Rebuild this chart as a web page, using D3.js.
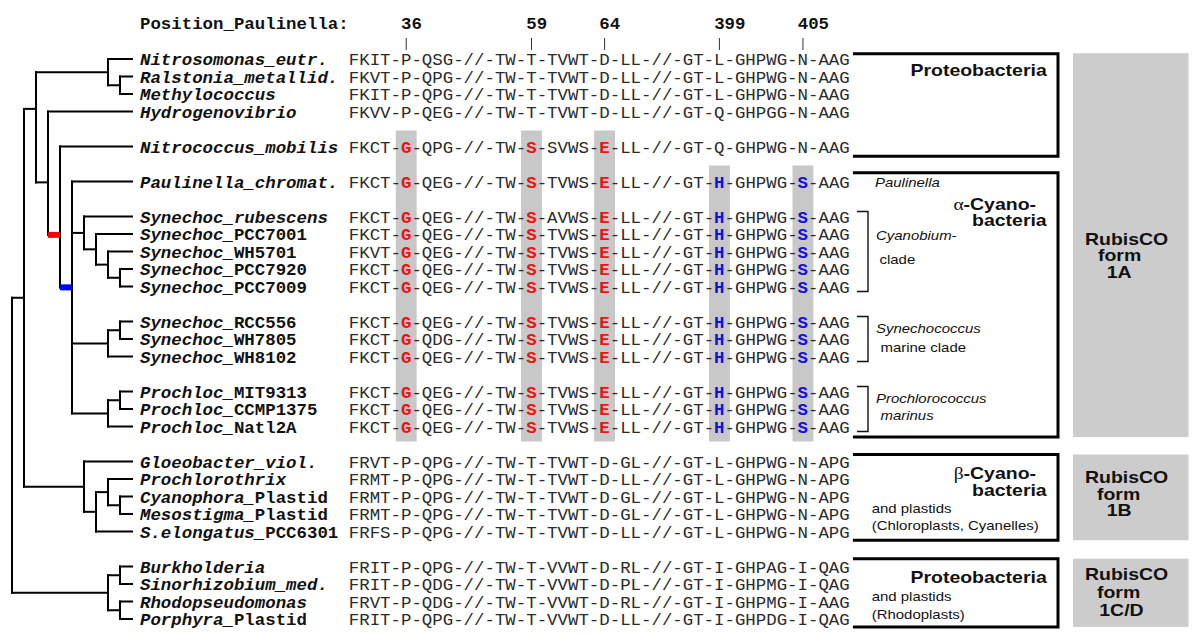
<!DOCTYPE html>
<html><head><meta charset="utf-8">
<script src="https://cdn.jsdelivr.net/npm/d3@7"></script>
<style>body{margin:0;background:#fff}svg{display:block}</style>
</head><body>
<svg id="chart" width="1200" height="636"></svg>
<script>
// ---------- DATA ----------
const taxonItalic = ["Nitrosomonas_eutr.","Ralstonia_metallid.","Methylococcus","Hydrogenovibrio",
 "Nitrococcus_mobilis","Paulinella_chromat.","Synechoc_rubescens","Synechoc_","Synechoc_","Synechoc_","Synechoc_",
 "Synechoc_","Synechoc_","Synechoc_","Prochloc_","Prochloc_","Prochloc_",
 "Gloeobacter_viol.","Prochlorothrix","Cyanophora_","Mesostigma_","S.elongatus_",
 "Burkholderia","Sinorhizobium_med.","Rhodopseudomonas","Porphyra_"];
const taxonUpright = ["","","","","","","","PCC7001","WH5701","PCC7920","PCC7009",
 "RCC556","WH7805","WH8102","MIT9313","CCMP1375","Natl2A",
 "","","Plastid","Plastid","PCC6301","","","","Plastid"];
const taxonRow = [0,1,2,3,5,7,9,10,11,12,13,15,16,17,19,20,21,23,24,25,26,27,29,30,31,32];
const sequences = [
 "FKIT-P-QSG-//-TW-T-TVWT-D-LL-//-GT-L-GHPWG-N-AAG",
 "FKVT-P-QPG-//-TW-T-TVWT-D-LL-//-GT-L-GHPWG-N-AAG",
 "FKIT-P-QPG-//-TW-T-TVWT-D-LL-//-GT-L-GHPWG-N-AAG",
 "FKVV-P-QEG-//-TW-T-TVWT-D-LL-//-GT-Q-GHPGG-N-AAG",
 "FKCT-G-QPG-//-TW-S-SVWS-E-LL-//-GT-Q-GHPWG-N-AAG",
 "FKCT-G-QEG-//-TW-S-TVWS-E-LL-//-GT-H-GHPWG-S-AAG",
 "FKCT-G-QEG-//-TW-S-AVWS-E-LL-//-GT-H-GHPWG-S-AAG",
 "FKCT-G-QEG-//-TW-S-TVWS-E-LL-//-GT-H-GHPWG-S-AAG",
 "FKVT-G-QEG-//-TW-S-TVWS-E-LL-//-GT-H-GHPWG-S-AAG",
 "FKCT-G-QEG-//-TW-S-TVWS-E-LL-//-GT-H-GHPWG-S-AAG",
 "FKCT-G-QEG-//-TW-S-TVWS-E-LL-//-GT-H-GHPWG-S-AAG",
 "FKCT-G-QEG-//-TW-S-TVWS-E-LL-//-GT-H-GHPWG-S-AAG",
 "FKCT-G-QDG-//-TW-S-TVWS-E-LL-//-GT-H-GHPWG-S-AAG",
 "FKCT-G-QEG-//-TW-S-TVWS-E-LL-//-GT-H-GHPWG-S-AAG",
 "FKCT-G-QEG-//-TW-S-TVWS-E-LL-//-GT-H-GHPWG-S-AAG",
 "FKCT-G-QEG-//-TW-S-TVWS-E-LL-//-GT-H-GHPWG-S-AAG",
 "FKCT-G-QEG-//-TW-S-TVWS-E-LL-//-GT-H-GHPWG-S-AAG",
 "FRVT-P-QPG-//-TW-T-TVWT-D-GL-//-GT-L-GHPWG-N-APG",
 "FRMT-P-QPG-//-TW-T-TVWT-D-LL-//-GT-L-GHPWG-N-APG",
 "FRMT-P-QPG-//-TW-T-TVWT-D-GL-//-GT-L-GHPWG-N-APG",
 "FRMT-P-QPG-//-TW-T-TVWT-D-GL-//-GT-L-GHPWG-N-APG",
 "FRFS-P-QPG-//-TW-T-TVWT-D-LL-//-GT-L-GHPWG-N-APG",
 "FRIT-P-QPG-//-TW-T-VVWT-D-RL-//-GT-I-GHPAG-I-QAG",
 "FRIT-P-QDG-//-TW-T-VVWT-D-PL-//-GT-I-GHPMG-I-QAG",
 "FRVT-P-QDG-//-TW-T-VVWT-D-RL-//-GT-I-GHPMG-I-AAG",
 "FRIT-P-QPG-//-TW-T-VVWT-D-LL-//-GT-I-GHPDG-I-QAG"];

const positionLabels = ["36","59","64","399","405"];
const positionCols   = [5,17,24,35,43];
const positionColor  = ["red","red","red","blue","blue"];
const positionFirstRow = [5,5,5,7,7];
const positionLastRow  = [21,21,21,21,21];

// cladogram: internal nodes (level = depth step, kids = node ids or taxon names, at = attach row if not centred)
const treeNodes = [
 {id:"root",level:1,kids:["A","N"]},
 {id:"A",level:2,kids:["B","J"]},
 {id:"B",level:3,kids:["P3","C"],at:2.85},
 {id:"P3",level:9,kids:["Nitrosomonas_eutr.","RM"]},
 {id:"RM",level:10,kids:["Ralstonia_metallid.","Methylococcus"]},
 {id:"C",level:4,kids:["Hydrogenovibrio","D"],at:7.05},
 {id:"D",level:5,kids:["Nitrococcus_mobilis","E"],at:10.05},
 {id:"E",level:6,kids:["Paulinella_chromat.","F","Q","S"],at:13.05},
 {id:"F",level:7,kids:["Synechoc_rubescens","G"]},
 {id:"G",level:8,kids:["Synechoc_PCC7001","H"]},
 {id:"H",level:9,kids:["Synechoc_WH5701","I"]},
 {id:"I",level:10,kids:["Synechoc_PCC7920","Synechoc_PCC7009"]},
 {id:"Q",level:9,kids:["R","Synechoc_WH8102"]},
 {id:"R",level:10,kids:["Synechoc_RCC556","Synechoc_WH7805"]},
 {id:"S",level:9,kids:["T","Prochloc_Natl2A"]},
 {id:"T",level:10,kids:["Prochloc_MIT9313","Prochloc_CCMP1375"]},
 {id:"J",level:7,kids:["Gloeobacter_viol.","K"]},
 {id:"K",level:8,kids:["L","S.elongatus_PCC6301"]},
 {id:"L",level:9,kids:["Prochlorothrix","M"]},
 {id:"M",level:10,kids:["Cyanophora_Plastid","Mesostigma_Plastid"]},
 {id:"N",level:9,kids:["O","P"]},
 {id:"O",level:10,kids:["Burkholderia","Sinorhizobium_med."]},
 {id:"P",level:10,kids:["Rhodopseudomonas","Porphyra_Plastid"]}];
const leafLevel = 11;
const branchMarkNode  = ["D","E"];
const branchMarkColor = ["#ff0000","#0000ff"];

const groupSpans = [[-0.3,5.55],[6.5,21.6],[22.6,27.5],[28.55,32.45]];
const formSpans  = [[-0.33,21.6],[22.6,27.5],[28.55,32.45]];
const cladeBrackets = [[9,13],[15,17],[19,21]];

// ---------- DRAW ----------
const svg = d3.select("#chart");
svg.append("rect").attr("width",1200).attr("height",636).attr("fill","#fff");
const FS = 17.4, CW = FS*0.6;
const MONO = "'Liberation Mono','Courier New',monospace";
const SANS = "'Liberation Sans',Arial,Helvetica,sans-serif";
const colX = d3.scaleLinear().domain([0,1]).range([140,140+CW]);   // left edge of text column
const rowY = d3.scaleLinear().domain([0,32]).range([59,619]);
const levelX = d3.scaleLinear().domain([0,11]).range([0,132]);
const SEQ0 = 20;

// highlight columns
positionCols.forEach((c,i)=>{
  const cx = colX(SEQ0+c+0.5);
  svg.append("rect").attr("x",cx-CW).attr("width",2*CW)
    .attr("y",rowY(positionFirstRow[i])-16).attr("height",rowY(positionLastRow[i])+15-(rowY(positionFirstRow[i])-16))
    .attr("fill","#c8c8c8");
});

// header
svg.append("text").attr("x",colX(0)).attr("y",29).attr("font-family",MONO).attr("font-size",FS)
  .attr("font-weight","bold").attr("fill","#111").text("Position_Paulinella:");
positionCols.forEach((c,i)=>{
  svg.append("text").attr("x",colX(SEQ0+c)).attr("y",29).attr("font-family",MONO).attr("font-size",FS)
    .attr("font-weight","bold").attr("fill","#111").text(positionLabels[i]);
  svg.append("line").attr("x1",colX(SEQ0+c+0.5)).attr("x2",colX(SEQ0+c+0.5)).attr("y1",38).attr("y2",50)
    .attr("stroke","#333").attr("stroke-width",1);
});

// names + sequences
taxonRow.forEach((r,i)=>{
  const t = svg.append("text").attr("x",colX(0)).attr("y",rowY(r)+6).attr("font-family",MONO)
    .attr("font-size",FS).attr("font-weight","bold").attr("fill","#111");
  t.append("tspan").attr("font-style","italic").text(taxonItalic[i]);
  if (taxonUpright[i]) t.append("tspan").text(taxonUpright[i]);

  const s = svg.append("text").attr("x",colX(SEQ0)).attr("y",rowY(r)+6).attr("font-family",MONO)
    .attr("font-size",FS).attr("fill","#2a2a2a");
  const seq = sequences[i];
  let buf = "";
  for (let c=0;c<seq.length;c++){
    const k = positionCols.indexOf(c);
    if (k>=0 && r>=positionFirstRow[k] && r<=positionLastRow[k]){
      if (buf){ s.append("tspan").text(buf); buf=""; }
      s.append("tspan").attr("font-weight","bold")
        .attr("fill",positionColor[k]==="red"?"#ee1111":"#1111dd").text(seq[c]);
    } else buf += seq[c];
  }
  if (buf) s.append("tspan").text(buf);
});

// tree
const nodeMap = new Map(treeNodes.map(n=>[n.id,n]));
const leafRow = new Map(taxonRow.map((r,i)=>[taxonItalic[i]+taxonUpright[i], r]));
function yOf(id){
  if (!nodeMap.has(id)) return rowY(leafRow.get(id));
  const n = nodeMap.get(id);
  if (n.at!=null) return rowY(n.at);
  return (yOf(n.kids[0])+yOf(n.kids[n.kids.length-1]))/2;
}
function lvl(id){ return nodeMap.has(id)? nodeMap.get(id).level : leafLevel; }
const tree = svg.append("g").attr("stroke","#000").attr("stroke-width",2).attr("stroke-linecap","square").attr("fill","none");
treeNodes.forEach(n=>{
  const x = levelX(n.level);
  const ys = n.kids.map(yOf);
  tree.append("line").attr("x1",x).attr("x2",x).attr("y1",d3.min(ys)).attr("y2",d3.max(ys));
  n.kids.forEach((k,j)=>{
    tree.append("line").attr("x1",x).attr("x2",levelX(lvl(k))).attr("y1",ys[j]).attr("y2",ys[j]);
  });
});
// branch marks
branchMarkNode.forEach((id,i)=>{
  const n = nodeMap.get(id);
  const parent = treeNodes.find(p=>p.kids.includes(id));
  const y = yOf(id);
  svg.append("rect").attr("x",levelX(parent.level)).attr("width",levelX(n.level)-levelX(parent.level))
    .attr("y",y-3).attr("height",6).attr("fill",branchMarkColor[i]);
});

// group boxes (open on the left)
const BX0 = colX(SEQ0+48)+3, BX1 = 1058;
groupSpans.forEach(sp=>{
  svg.append("path").attr("d",`M${BX0},${rowY(sp[0])}H${BX1}V${rowY(sp[1])}H${BX0}`)
    .attr("fill","none").attr("stroke","#000").attr("stroke-width",3);
});
formSpans.forEach(sp=>{
  svg.append("rect").attr("x",1073).attr("width",115.5).attr("y",rowY(sp[0])).attr("height",rowY(sp[1])-rowY(sp[0]))
    .attr("fill","#cccccc");
});
cladeBrackets.forEach(b=>{
  const y0 = rowY(b[0])-5, y1 = rowY(b[1])+5;
  svg.append("path").attr("d",`M857,${y0}H868V${y1}H857`).attr("fill","none").attr("stroke","#111").attr("stroke-width",1.4);
});

// labels
function label(x,y,parts,opts){
  const t = svg.append("text").attr("transform",`translate(${x},${y}) scale(${opts.sx},1)`)
    .attr("text-anchor",opts.anchor||"start").attr("font-family",SANS)
    .attr("font-size",opts.size).attr("font-weight",opts.bold?"bold":"normal")
    .attr("font-style",opts.italic?"italic":"normal").attr("fill","#111");
  parts.forEach(p=>{
    const ts = t.append("tspan").text(p.t);
    if (p.serif) ts.attr("font-family","'Liberation Serif','Times New Roman',serif").attr("font-weight","normal");
  });
}
const B = {size:16.5,sx:1.18,bold:true}, BE = {size:16.5,sx:1.18,bold:true,anchor:"end"};
const SM = {size:13.6,sx:1.1}, SI = {size:13.6,sx:1.1,italic:true};
label(1046.7,76,[{t:"Proteobacteria"}],BE);
label(875,186.5,[{t:"Paulinella"}],SI);
label(1036,209.5,[{t:"α",serif:true},{t:"-Cyano-"}],BE);
label(1046.7,225.5,[{t:"bacteria"}],BE);
label(876,240,[{t:"Cyanobium-"}],SI);
label(879.5,264,[{t:"clade"}],SM);
label(876,333,[{t:"Synechococcus"}],SI);
label(880.5,352,[{t:"marine clade"}],SM);
label(876,402.5,[{t:"Prochlorococcus"}],SI);
label(880.5,419.5,[{t:"marinus"}],SI);
label(1036,478.5,[{t:"β",serif:true},{t:"-Cyano-"}],BE);
label(1046.7,496,[{t:"bacteria"}],BE);
label(871.7,513,[{t:"and plastids"}],SM);
label(871.7,529.5,[{t:"(Chloroplasts, Cyanelles)"}],SM);
label(1046.7,582.5,[{t:"Proteobacteria"}],BE);
label(871.7,601,[{t:"and plastids"}],SM);
label(871.7,618.5,[{t:"(Rhodoplasts)"}],SM);
label(1085,245,[{t:"RubisCO"}],B);
label(1098,261,[{t:"form"}],B);
label(1106.7,277.5,[{t:"1A"}],B);
label(1085,483,[{t:"RubisCO"}],B);
label(1097,499.5,[{t:"form"}],B);
label(1106.7,516,[{t:"1B"}],B);
label(1085,580,[{t:"RubisCO"}],B);
label(1097,598,[{t:"form"}],B);
label(1099.3,616,[{t:"1C/D"}],B);
</script>
</body></html>
